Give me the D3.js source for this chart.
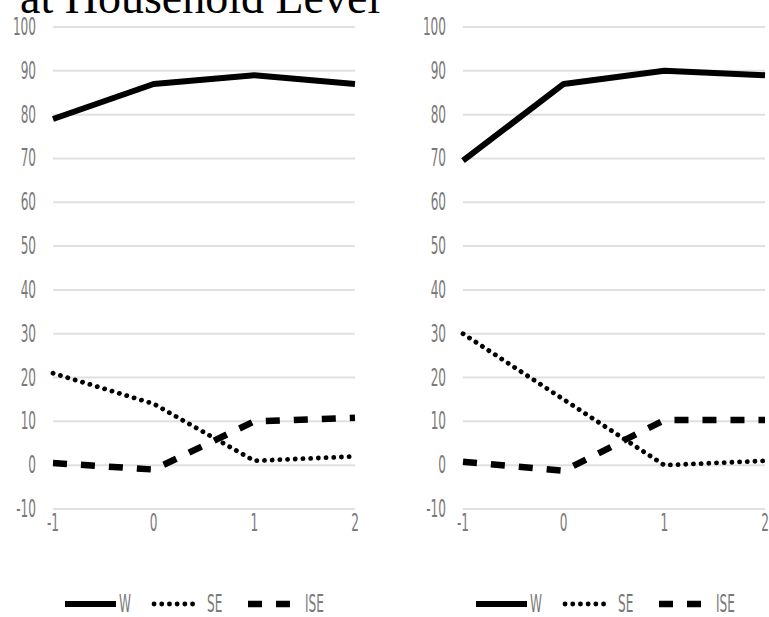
<!DOCTYPE html>
<html>
<head>
<meta charset="utf-8">
<script src="https://cdn.jsdelivr.net/npm/d3@7"></script>
<style>
body { margin: 0; background: #fff; }
svg { display: block; }
</style>
</head>
<body>
<svg id="chart" width="769" height="617"></svg>
<script>
const titleText = "at Household Level";
const xCats = [-1, 0, 1, 2];
const yTicks = [-10, 0, 10, 20, 30, 40, 50, 60, 70, 80, 90, 100];
const seriesNames = ["W", "SE", "ISE"];

const leftW = [79, 87, 89, 87];
const leftSE = [21, 14, 1, 2];
const leftISE = [0.5, -1, 10, 10.8];

const rightW = [69.5, 87, 90, 89];
const rightSE = [30, 15, 0, 1];
const rightISE = [0.8, -1.3, 10.3, 10.3];

const svg = d3.select("#chart");
const styles = {
  W: { width: 6, dash: null, cap: "butt" },
  SE: { width: 4.8, dash: "0.1 7.6", cap: "round" },
  ISE: { width: 6.5, dash: "14 14", cap: "butt" }
};

const y = d3.scaleLinear().domain([-10, 100]).range([509, 27]);
const FONT = "DejaVu Sans Condensed, DejaVu Sans";
const sx = 0.56;

function panel(x0, x1, labelX, W, SE, ISE, legendX) {
  const x = d3.scaleLinear().domain([-1, 2]).range([x0, x1]);
  const g = svg.append("g");
  g.selectAll(".grid").data(yTicks).join("line")
    .attr("x1", x0).attr("x2", x1)
    .attr("y1", d => y(d)).attr("y2", d => y(d))
    .attr("stroke", "#e0e0e0").attr("stroke-width", 2);
  g.selectAll(".yl").data(yTicks).join("text")
    .attr("transform", d => `translate(${labelX},${y(d) + 8}) scale(${sx},1)`)
    .attr("text-anchor", "end")
    .attr("font-family", FONT)
    .attr("font-size", 24)
    .attr("fill", "#7a7a7a")
    .text(d => d);
  g.selectAll(".xl").data(xCats).join("text")
    .attr("transform", d => `translate(${x(d)},${y(-10) + 22}) scale(${sx},1)`)
    .attr("text-anchor", "middle")
    .attr("font-family", FONT)
    .attr("font-size", 24)
    .attr("fill", "#7a7a7a")
    .text(d => d);
  const data = { W: W, SE: SE, ISE: ISE };
  const line = d3.line().x((d, i) => x(xCats[i])).y(d => y(d));
  seriesNames.forEach(n => {
    const s = styles[n];
    g.append("path").datum(data[n])
      .attr("d", line)
      .attr("fill", "none")
      .attr("stroke", "#000")
      .attr("stroke-width", s.width)
      .attr("stroke-linecap", s.cap)
      .attr("stroke-linejoin", "round")
      .attr("stroke-dasharray", s.dash);
  });
  const ly = 604;
  const lg = svg.append("g").attr("transform", `translate(${legendX},0)`);
  const items = [
    { n: "W", len: 51, gap: 3, tw: 16 },
    { n: "SE", len: 46, gap: 9, tw: 24 },
    { n: "ISE", len: 45, gap: 12, tw: 22 }
  ];
  let cx = 0;
  items.forEach(it => {
    const s = styles[it.n];
    lg.append("line")
      .attr("x1", cx + (it.n === "SE" ? 2 : 0)).attr("x2", cx + it.len)
      .attr("y1", ly).attr("y2", ly)
      .attr("stroke", "#000")
      .attr("stroke-width", s.width)
      .attr("stroke-linecap", s.cap)
      .attr("stroke-dasharray", s.dash);
    lg.append("text")
      .attr("transform", `translate(${cx + it.len + it.gap},${ly + 8}) scale(${sx},1)`)
      .attr("font-family", FONT)
      .attr("font-size", 24)
      .attr("fill", "#7a7a7a")
      .text(it.n);
    cx += it.len + it.gap + it.tw + 17;
  });
}

panel(53, 355, 36, leftW, leftSE, leftISE, 65);
panel(463, 765, 446, rightW, rightSE, rightISE, 476);

svg.append("text")
  .attr("x", 20).attr("y", 13)
  .attr("font-family", "Liberation Serif, Times New Roman, serif")
  .attr("font-size", 46)
  .attr("fill", "#000")
  .text(titleText);
</script>
</body>
</html>
